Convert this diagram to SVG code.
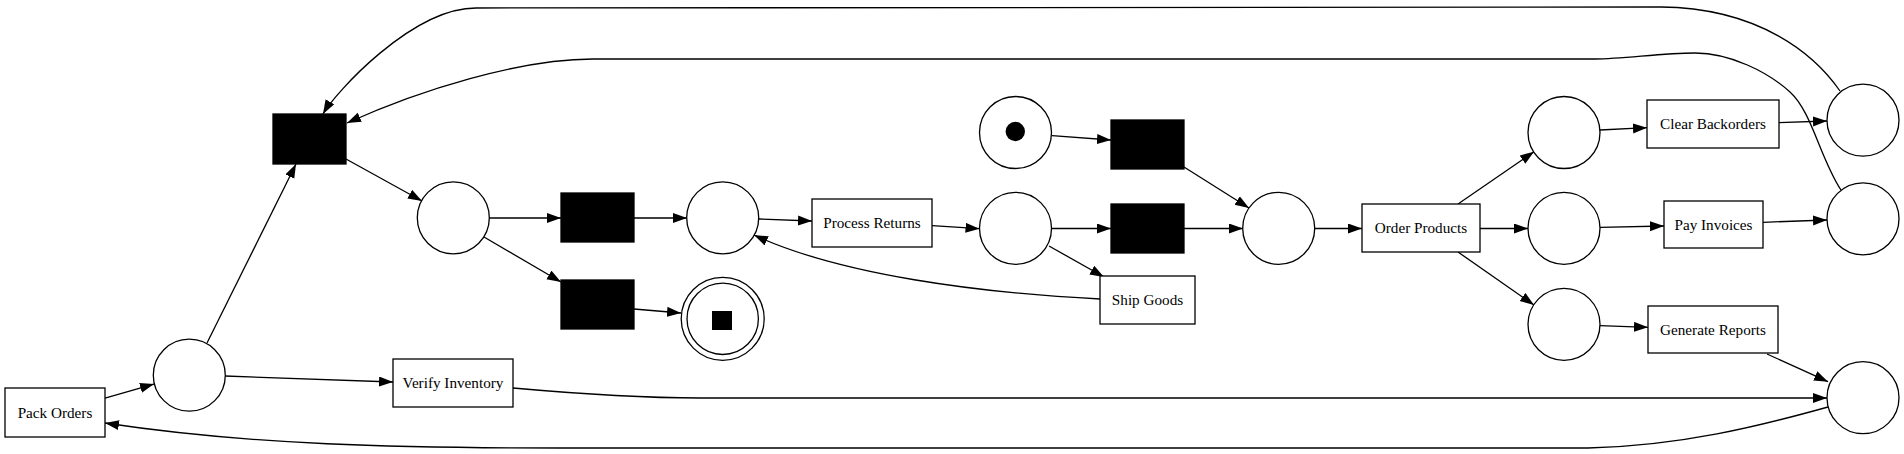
<svg xmlns="http://www.w3.org/2000/svg" width="1904" height="454" viewBox="0 0 1904 454">
<defs>
<marker id="arr" markerUnits="userSpaceOnUse" markerWidth="15" markerHeight="11" refX="14" refY="5" orient="auto">
<path d="M0,0 L14,5 L0,10 z" fill="#000"/>
</marker>
<style>
.pl{fill:#fff;stroke:#000;stroke-width:1.3}
.tr{fill:#fff;stroke:#000;stroke-width:1.3}
.si{fill:#000;stroke:#000;stroke-width:1.3}
.lb{font-family:"Liberation Serif","Times New Roman",serif;font-size:15.2px;text-anchor:middle;fill:#000}
.ed path{fill:none;stroke:#000;stroke-width:1.3;marker-end:url(#arr)}
</style>
</defs>
<rect width="1904" height="454" fill="#fff"/>
<g id="connectors" class="ed">
<path d="M105,398 L154,384"/>
<path d="M225,376 L393,382"/>
<path d="M207,343 L296,164"/>
<path d="M346,159 L422,201"/>
<path d="M489,218 L561,218"/>
<path d="M484,237 L561,282"/>
<path d="M634,218 L687,218"/>
<path d="M634,309 L681,313"/>
<path d="M759,219 L812,221"/>
<path d="M932,225.7 L979.5,228.7"/>
<path d="M1052,228.5 L1111,228.5"/>
<path d="M1049,246 L1104,277"/>
<path d="M1100,299 C980,293 840,275 754,235"/>
<path d="M1052,135.7 L1111,140"/>
<path d="M1184,167 L1249,208"/>
<path d="M1184,228.5 L1243,228.5"/>
<path d="M1315,228.5 L1362,228.5"/>
<path d="M1458,204 L1534,151.7"/>
<path d="M1480,228.5 L1528,228.5"/>
<path d="M1458,252 L1534,305"/>
<path d="M1600,130 L1647,127.7"/>
<path d="M1600,227.3 L1664,226"/>
<path d="M1600,325.7 L1648,327.3"/>
<path d="M1779,122.7 L1827,121"/>
<path d="M1763,222.3 L1827,220"/>
<path d="M1767,354 L1828,381.7"/>
<path d="M513,388 C580,394 640,398 700,398 L1827,398"/>
<path d="M1828,407 C1760,426 1680,446 1588,448 L560,448 C400,448 250,445 105,423"/>
<path d="M1840,91 C1815,55 1760,8 1661,7 L476,8 C412,8 335,93 323,114"/>
<path d="M1841,190 C1820,158 1812,112 1790,92 S1730,53 1695,53 S1625,59 1595,59 L593,59 C520,59 420,90 347,123"/>
</g>
<g id="pack_orders"><rect class="tr" x="5" y="388" width="100" height="49"/><text class="lb" x="55" y="417.5">Pack Orders</text></g>
<g id="p_b"><circle class="pl" cx="189.3" cy="375.2" r="36"/></g>
<g id="verify_inventory"><rect class="tr" x="393" y="359" width="120" height="48"/><text class="lb" x="453" y="388">Verify Inventory</text></g>
<g id="t0"><rect class="si" x="273" y="114" width="73" height="50"/></g>
<g id="p_a"><circle class="pl" cx="453.3" cy="217.8" r="36"/></g>
<g id="t1"><rect class="si" x="561" y="193" width="73" height="49"/></g>
<g id="t2"><rect class="si" x="561" y="280" width="73" height="49"/></g>
<g id="p_c"><circle class="pl" cx="722.7" cy="217.8" r="36"/></g>
<g id="p_final"><circle class="pl" cx="722.7" cy="318.8" r="41.5"/><circle class="pl" cx="722.7" cy="318.8" r="35.7"/><rect x="712" y="311" width="20" height="19" fill="#000"/></g>
<g id="process_returns"><rect class="tr" x="812" y="199" width="120" height="48"/><text class="lb" x="872" y="228">Process Returns</text></g>
<g id="p_init"><circle class="pl" cx="1015.5" cy="132.5" r="36"/><circle cx="1015.3" cy="131.5" r="9.7" fill="#000"/></g>
<g id="p_d"><circle class="pl" cx="1015.5" cy="228.3" r="36"/></g>
<g id="t3"><rect class="si" x="1111" y="120" width="73" height="49"/></g>
<g id="t4"><rect class="si" x="1111" y="204" width="73" height="49"/></g>
<g id="ship_goods"><rect class="tr" x="1100" y="276" width="95" height="48"/><text class="lb" x="1147.5" y="305">Ship Goods</text></g>
<g id="p_e"><circle class="pl" cx="1278.7" cy="228.3" r="36"/></g>
<g id="order_products"><rect class="tr" x="1362" y="204" width="118" height="48"/><text class="lb" x="1421" y="233">Order Products</text></g>
<g id="p_f"><circle class="pl" cx="1564" cy="132.5" r="36"/></g>
<g id="p_g"><circle class="pl" cx="1564" cy="228.3" r="36"/></g>
<g id="p_h"><circle class="pl" cx="1564" cy="324.3" r="36"/></g>
<g id="clear_backorders"><rect class="tr" x="1647" y="100" width="132" height="48"/><text class="lb" x="1713" y="129">Clear Backorders</text></g>
<g id="pay_invoices"><rect class="tr" x="1664" y="201" width="99" height="47"/><text class="lb" x="1713.5" y="229.5">Pay Invoices</text></g>
<g id="generate_reports"><rect class="tr" x="1648" y="306" width="130" height="47"/><text class="lb" x="1713" y="334.5">Generate Reports</text></g>
<g id="p_i"><circle class="pl" cx="1863" cy="120.2" r="36"/></g>
<g id="p_j"><circle class="pl" cx="1863" cy="218.8" r="36"/></g>
<g id="p_k"><circle class="pl" cx="1863" cy="397.7" r="36"/></g>
</svg>
